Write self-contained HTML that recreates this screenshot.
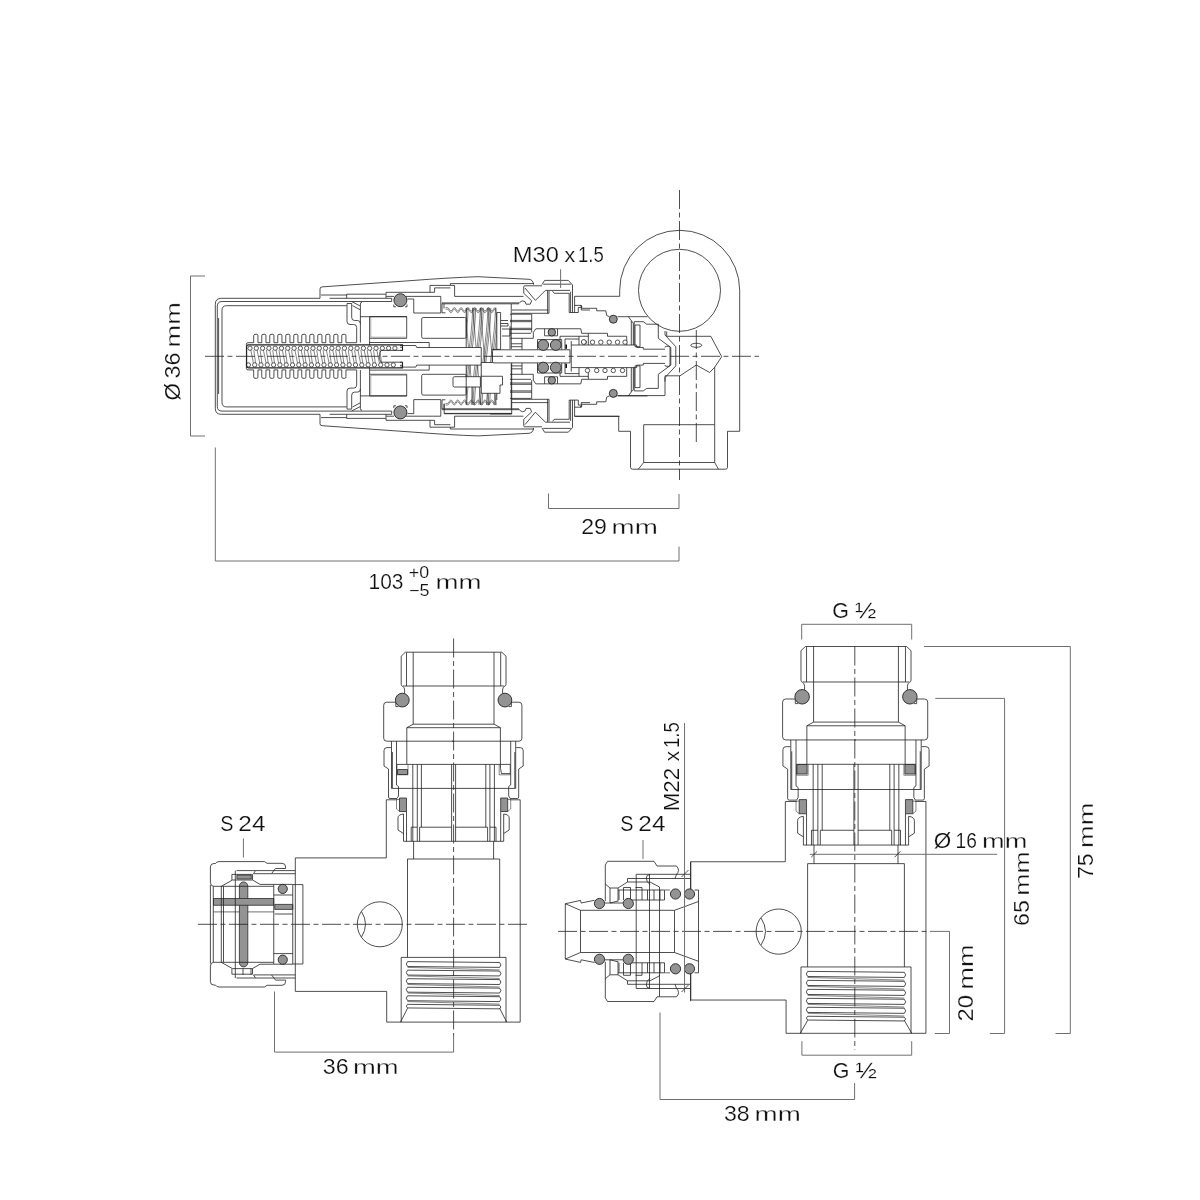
<!DOCTYPE html>
<html lang="en">
<head>
<meta charset="utf-8">
<title>Thermostatic valve – dimensions</title>
<style>
html,body{margin:0;padding:0;background:#fff;}
body{width:1200px;height:1200px;overflow:hidden;}
svg{display:block;position:absolute;left:0;top:0;}
.l{fill:none;stroke:#222;stroke-width:0.8;stroke-linejoin:round;stroke-linecap:butt;}
.w{fill:#fff;stroke:#222;stroke-width:0.8;stroke-linejoin:round;}
.t{fill:none;stroke:#222;stroke-width:0.55;}
.d{fill:none;stroke:#707070;stroke-width:1;}
.c{fill:none;stroke:#222;stroke-width:0.8;stroke-dasharray:19 3.5 5 3.5;}
.o{fill:#939393;stroke:#222;stroke-width:0.9;}
.sc{fill:#fff;stroke:#222;stroke-width:0.75;}
.t2{fill:none;stroke:#777;stroke-width:0.6;}
.b{fill:none;stroke:#222;stroke-width:1.15;}
.k{fill:#111;stroke:none;}
.gs{fill:#939393;stroke:#2a2a2a;stroke-width:0.8;}
#right path,#right circle{vector-effect:non-scaling-stroke;}
.d2{fill:none;stroke:#999;stroke-width:1.4;}
#text{opacity:0.999;}
text{font-family:"Liberation Sans",sans-serif;fill:#111;stroke:#fff;stroke-linejoin:round;}
</style>
</head>
<body>
<svg width="1200" height="1200" viewBox="0 0 1200 1200">
<g id="top">
<clipPath id="cs"><rect x="466.2" y="307.6" width="30.600000000000023" height="97.39999999999998"/></clipPath>
<g clip-path="url(#cs)"><path class="t" d="M465.10,307.60 C464.60,337.60 457.60,370.00 456.10,405.00M466.60,307.60 C466.10,337.60 459.10,370.00 457.60,405.00M468.10,307.60 C467.60,337.60 460.60,370.00 459.10,405.00M472.70,307.60 C472.20,337.60 465.20,370.00 463.70,405.00M474.20,307.60 C473.70,337.60 466.70,370.00 465.20,405.00M475.70,307.60 C475.20,337.60 468.20,370.00 466.70,405.00M480.30,307.60 C479.80,337.60 472.80,370.00 471.30,405.00M481.80,307.60 C481.30,337.60 474.30,370.00 472.80,405.00M483.30,307.60 C482.80,337.60 475.80,370.00 474.30,405.00M487.90,307.60 C487.40,337.60 480.40,370.00 478.90,405.00M489.40,307.60 C488.90,337.60 481.90,370.00 480.40,405.00M490.90,307.60 C490.40,337.60 483.40,370.00 481.90,405.00M495.50,307.60 C495.00,337.60 488.00,370.00 486.50,405.00M497.00,307.60 C496.50,337.60 489.50,370.00 488.00,405.00M498.50,307.60 C498.00,337.60 491.00,370.00 489.50,405.00M503.10,307.60 C502.60,337.60 495.60,370.00 494.10,405.00M504.60,307.60 C504.10,337.60 497.10,370.00 495.60,405.00M506.10,307.60 C505.60,337.60 498.60,370.00 497.10,405.00M510.70,307.60 C510.20,337.60 503.20,370.00 501.70,405.00M512.20,307.60 C511.70,337.60 504.70,370.00 503.20,405.00M513.70,307.60 C513.20,337.60 506.20,370.00 504.70,405.00M465.20,307.60 C467.20,332.60 471.20,380.00 473.20,405.00M472.80,307.60 C474.80,332.60 478.80,380.00 480.80,405.00M480.40,307.60 C482.40,332.60 486.40,380.00 488.40,405.00M488.00,307.60 C490.00,332.60 494.00,380.00 496.00,405.00M495.60,307.60 C497.60,332.60 501.60,380.00 503.60,405.00"/></g>
<path class="l" d="M466.2 308V405M496.8 312.5V400"/>
<path class="l" d="M218.6 318V394"/>
<circle class="sc" cx="250" cy="348.2" r="2.15"/>
<circle class="sc" cx="248.4" cy="364.9" r="2.15"/>
<circle class="sc" cx="256.3" cy="348.2" r="2.15"/>
<circle class="sc" cx="254.7" cy="364.9" r="2.15"/>
<circle class="sc" cx="262.6" cy="348.2" r="2.15"/>
<circle class="sc" cx="261" cy="364.9" r="2.15"/>
<circle class="sc" cx="268.9" cy="348.2" r="2.15"/>
<circle class="sc" cx="267.3" cy="364.9" r="2.15"/>
<circle class="sc" cx="275.2" cy="348.2" r="2.15"/>
<circle class="sc" cx="273.6" cy="364.9" r="2.15"/>
<circle class="sc" cx="281.5" cy="348.2" r="2.15"/>
<circle class="sc" cx="279.9" cy="364.9" r="2.15"/>
<circle class="sc" cx="287.8" cy="348.2" r="2.15"/>
<circle class="sc" cx="286.2" cy="364.9" r="2.15"/>
<circle class="sc" cx="294.1" cy="348.2" r="2.15"/>
<circle class="sc" cx="292.5" cy="364.9" r="2.15"/>
<circle class="sc" cx="300.4" cy="348.2" r="2.15"/>
<circle class="sc" cx="298.8" cy="364.9" r="2.15"/>
<circle class="sc" cx="306.7" cy="348.2" r="2.15"/>
<circle class="sc" cx="305.1" cy="364.9" r="2.15"/>
<circle class="sc" cx="313" cy="348.2" r="2.15"/>
<circle class="sc" cx="311.4" cy="364.9" r="2.15"/>
<circle class="sc" cx="319.3" cy="348.2" r="2.15"/>
<circle class="sc" cx="317.7" cy="364.9" r="2.15"/>
<circle class="sc" cx="325.6" cy="348.2" r="2.15"/>
<circle class="sc" cx="324" cy="364.9" r="2.15"/>
<circle class="sc" cx="331.9" cy="348.2" r="2.15"/>
<circle class="sc" cx="330.3" cy="364.9" r="2.15"/>
<circle class="sc" cx="338.2" cy="348.2" r="2.15"/>
<circle class="sc" cx="336.6" cy="364.9" r="2.15"/>
<circle class="sc" cx="344.5" cy="348.2" r="2.15"/>
<circle class="sc" cx="342.9" cy="364.9" r="2.15"/>
<circle class="sc" cx="350.8" cy="348.2" r="2.15"/>
<circle class="sc" cx="349.2" cy="364.9" r="2.15"/>
<circle class="sc" cx="357.1" cy="348.2" r="2.15"/>
<circle class="sc" cx="355.5" cy="364.9" r="2.15"/>
<circle class="sc" cx="363.4" cy="348.2" r="2.15"/>
<circle class="sc" cx="361.8" cy="364.9" r="2.15"/>
<circle class="sc" cx="369.7" cy="348.2" r="2.15"/>
<circle class="sc" cx="368.1" cy="364.9" r="2.15"/>
<circle class="sc" cx="376" cy="348.2" r="2.15"/>
<circle class="sc" cx="374.4" cy="364.9" r="2.15"/>
<circle class="sc" cx="382.3" cy="348.2" r="2.15"/>
<circle class="sc" cx="380.7" cy="364.9" r="2.15"/>
<circle class="sc" cx="388.6" cy="348.2" r="2.15"/>
<circle class="sc" cx="387" cy="364.9" r="2.15"/>
<circle class="sc" cx="394.9" cy="348.2" r="2.15"/>
<circle class="sc" cx="393.3" cy="364.9" r="2.15"/>
<path class="t" d="M250.8 350L253.4 363M253.8 350L255.6 363M257.1 350L259.7 363M260.1 350L261.9 363M263.4 350L266 363M266.4 350L268.2 363M269.7 350L272.3 363M272.7 350L274.5 363M276 350L278.6 363M279 350L280.8 363M282.3 350L284.9 363M285.3 350L287.1 363M288.6 350L291.2 363M291.6 350L293.4 363M294.9 350L297.5 363M297.9 350L299.7 363M301.2 350L303.8 363M304.2 350L306 363M307.5 350L310.1 363M310.5 350L312.3 363M313.8 350L316.4 363M316.8 350L318.6 363M320.1 350L322.7 363M323.1 350L324.9 363M326.4 350L329 363M329.4 350L331.2 363M332.7 350L335.3 363M335.7 350L337.5 363M339 350L341.6 363M342 350L343.8 363M345.3 350L347.9 363M348.3 350L350.1 363M351.6 350L354.2 363M354.6 350L356.4 363M357.9 350L360.5 363M360.9 350L362.7 363M364.2 350L366.8 363M367.2 350L369 363M370.5 350L373.1 363M373.5 350L375.3 363M376.8 350L379.4 363M379.8 350L381.6 363"/>
<rect x="416.7" y="347.5" width="64.5" height="17.6" fill="#fff"/>
<path class="l" d="M416.7 347.5H481.25V365.1H416.7"/>
<rect x="481.25" y="362.5" width="30.4" height="30.8" fill="#fff"/>
<path class="l" d="M481.25 393.3V362.5H511.7V414H490M481.25 393.3H500V385H502.5V376.25H481.25"/>
<path class="l" d="M444.2 403.5V413.75H511.7M444.2 413.4H511.7"/>
<path class="w" d="M454.5 376.7H480.4V387H454.5Q453 387 453 385.5V378.2Q453 376.7 454.5 376.7Z"/>
<path class="l" d="M496.8 312.5H500.6V349.5M500.8 320.5H508M500.8 323.5H508V326H500.8M502 329H510V336H502M510 326V349"/>
<path class="w" d="M494 349.8H570V362.9H494Q492.5 362.9 492.5 361.4V351.3Q492.5 349.8 494 349.8Z"/>
<path class="l" d="M491.7 349.4H500.6"/>
<path class="l" d="M619.7 296.3V290.3A60 60 0 0 1 739.7 290.3V431.3H727.5V467.2Q727.5 469.2 725.5 469.2H632.5Q630.5 469.2 630.5 467.2V431.3H618.7V416.3"/>
<path class="l" d="M574.6 416.3H618.7"/>
<circle class="l" cx="679.5" cy="290.3" r="41"/>
<path class="l" d="M666.7 336.3H710.8L721.7 356.7L714.7 367.2L709.7 372.5L696.3 365L680 375.8H665V395.4M666.7 336.3V331.5"/>
<ellipse class="l" cx="696.3" cy="345.3" rx="5.5" ry="2"/>
<path class="l" d="M714.7 367.2V424.7M643.7 424.7H714.7V462.5H643.7ZM643.7 462.5L638.3 469.2M714.7 462.5L718.5 469.2"/>
<path class="l" d="M617.5 395.6H665"/>
<path class="l" d="M320 298.3H221.3Q215.3 298.3 215.3 304.3V356.3"/>
<path class="l" d="M320 414.3H221.3Q215.3 414.3 215.3 408.3V356.3"/>
<path class="l" d="M391.7 301.5H222Q217.3 301.5 217.3 306.2V356.3"/>
<path class="l" d="M391.7 411.1H222Q217.3 411.1 217.3 406.4V356.3"/>
<path class="l" d="M346.7 305.7H226.5Q222 305.7 222 310.2V356.3"/>
<path class="l" d="M346.7 406.9H226.5Q222 406.9 222 402.4V356.3"/>
<path class="l" d="M329.6 298.3H391.7V301.5"/>
<path class="l" d="M329.6 414.3H391.7V411.1"/>
<path class="l" d="M321 295H346.7M346.7 298.3V294.2H385.8"/>
<path class="l" d="M321 417.6H346.7M346.7 414.3V418.4H385.8"/>
<path class="l" d="M320 298.3V289Q320 287 322 286.9L410 280.7Q450 277.6 478 276.7L529 279.3Q533 279.6 533.6 284.6"/>
<path class="l" d="M320 414.3V423.6Q320 425.6 322 425.7L410 431.9Q450 435 478 435.9L529 433.3Q533 433 533.6 428"/>
<path class="l" d="M347 303.5V321.5Q347 324.5 350 324.5H353.7Q356.7 324.5 356.7 327.5V342.6"/>
<path class="l" d="M347 409.1V391.1Q347 388.1 350 388.1H353.7Q356.7 388.1 356.7 385.1V370"/>
<path class="l" d="M347 303.5H351.7V317.5Q351.7 320.5 354.7 320.5H357.4Q360.4 320.5 360.4 323.5"/>
<path class="l" d="M347 409.1H351.7V395.1Q351.7 392.1 354.7 392.1H357.4Q360.4 392.1 360.4 389.1"/>
<path class="l" d="M351.7 301.6L360.2 306M352.5 305.6L360.2 309.8"/>
<path class="l" d="M351.7 411L360.2 406.6M352.5 407L360.2 402.8"/>
<path class="l" d="M360.4 342.6V304Q360.4 302.3 362 302.3M360.4 316.7H407"/>
<path class="l" d="M360.4 370V408.6Q360.4 410.3 362 410.3M360.4 395.9H407"/>
<path class="l" d="M369.6 316.7H406.7V338.3H369.6ZM369.6 338.3V345M369.6 342.5H429.2V347.5"/>
<path class="l" d="M369.6 395.9H406.7V374.3H369.6ZM369.6 374.3V367.6M369.6 370.1H429.2V365.1"/>
<path class="t2" d="M370.8 317V337.2H406.7"/>
<path class="t2" d="M370.8 395.6V375.4H406.7"/>
<path class="l" d="M386 298.3V292.3H430M386.2 296.4H394"/>
<path class="l" d="M386 414.3V420.3H430M386.2 416.2H394"/>
<path class="l" d="M393.8 304.5V306.8H396M405 306.8H407V304.5"/>
<path class="l" d="M393.8 408.1V405.8H396M405 405.8H407V408.1"/>
<path class="l" d="M430 292.3V285.4H450.4V283.6H534"/>
<path class="l" d="M430 420.3V427.2H450.4V429H534"/>
<path class="l" d="M430 292.3H434.6V287.9H450.4M450.4 285.4H454.6V296.4H523.5"/>
<path class="l" d="M430 420.3H434.6V424.7H450.4M450.4 427.2H454.6V416.2H523.5"/>
<path class="l" d="M406 296.4H440.8V313H413.75V299H407.5"/>
<path class="l" d="M406 416.2H440.8V399.6H413.75V413.6H407.5"/>
<path class="l" d="M442 302.9H519M442 303.8H519M442 303.3V312.8H445.5M444 304V308.5"/>
<path class="l" d="M442 409.7H519M442 408.8H519M442 409.3V399.8H445.5M444 408.6V404.1"/>
<path class="t" d="M445.5 307.6L447.5 307.6Q448.4 307.6 449.2 309.3Q450 311 450.9 311Q451.8 311 452.6 309.3Q453.4 307.6 454.3 307.6Q455.2 307.6 456 309.3Q456.8 311 457.7 311Q458.6 311 459.4 309.3Q460.2 307.6 461.1 307.6Q462 307.6 462.8 309.3Q463.6 311 464.5 311Q465.4 311 466.2 309.3Q467 307.6 467.9 307.6Q468.8 307.6 469.6 309.3Q470.4 311 471.3 311Q472.2 311 473 309.3Q473.8 307.6 474.7 307.6Q475.6 307.6 476.4 309.3Q477.2 311 478.1 311Q479 311 479.8 309.3Q480.6 307.6 481.5 307.6Q482.4 307.6 483.2 309.3Q484 311 484.9 311Q485.8 311 486.6 309.3Q487.4 307.6 488.3 307.6Q489.2 307.6 490 309.3Q490.8 311 491.7 311Q492.6 311 493.4 309.3Q494.2 307.6 495.1 307.6"/>
<path class="t" d="M445.5 405L447.5 405Q448.4 405 449.2 403.3Q450 401.6 450.9 401.6Q451.8 401.6 452.6 403.3Q453.4 405 454.3 405Q455.2 405 456 403.3Q456.8 401.6 457.7 401.6Q458.6 401.6 459.4 403.3Q460.2 405 461.1 405Q462 405 462.8 403.3Q463.6 401.6 464.5 401.6Q465.4 401.6 466.2 403.3Q467 405 467.9 405Q468.8 405 469.6 403.3Q470.4 401.6 471.3 401.6Q472.2 401.6 473 403.3Q473.8 405 474.7 405Q475.6 405 476.4 403.3Q477.2 401.6 478.1 401.6Q479 401.6 479.8 403.3Q480.6 405 481.5 405Q482.4 405 483.2 403.3Q484 401.6 484.9 401.6Q485.8 401.6 486.6 403.3Q487.4 405 488.3 405Q489.2 405 490 403.3Q490.8 401.6 491.7 401.6Q492.6 401.6 493.4 403.3Q494.2 405 495.1 405"/>
<path class="t" d="M445.5 309.2L447.5 309.2Q448.4 309.2 449.2 310.9Q450 312.6 450.9 312.6Q451.8 312.6 452.6 310.9Q453.4 309.2 454.3 309.2Q455.2 309.2 456 310.9Q456.8 312.6 457.7 312.6Q458.6 312.6 459.4 310.9Q460.2 309.2 461.1 309.2Q462 309.2 462.8 310.9Q463.6 312.6 464.5 312.6Q465.4 312.6 466.2 310.9Q467 309.2 467.9 309.2Q468.8 309.2 469.6 310.9Q470.4 312.6 471.3 312.6Q472.2 312.6 473 310.9Q473.8 309.2 474.7 309.2Q475.6 309.2 476.4 310.9Q477.2 312.6 478.1 312.6Q479 312.6 479.8 310.9Q480.6 309.2 481.5 309.2Q482.4 309.2 483.2 310.9Q484 312.6 484.9 312.6Q485.8 312.6 486.6 310.9Q487.4 309.2 488.3 309.2Q489.2 309.2 490 310.9Q490.8 312.6 491.7 312.6Q492.6 312.6 493.4 310.9Q494.2 309.2 495.1 309.2"/>
<path class="t" d="M445.5 403.4L447.5 403.4Q448.4 403.4 449.2 401.7Q450 400 450.9 400Q451.8 400 452.6 401.7Q453.4 403.4 454.3 403.4Q455.2 403.4 456 401.7Q456.8 400 457.7 400Q458.6 400 459.4 401.7Q460.2 403.4 461.1 403.4Q462 403.4 462.8 401.7Q463.6 400 464.5 400Q465.4 400 466.2 401.7Q467 403.4 467.9 403.4Q468.8 403.4 469.6 401.7Q470.4 400 471.3 400Q472.2 400 473 401.7Q473.8 403.4 474.7 403.4Q475.6 403.4 476.4 401.7Q477.2 400 478.1 400Q479 400 479.8 401.7Q480.6 403.4 481.5 403.4Q482.4 403.4 483.2 401.7Q484 400 484.9 400Q485.8 400 486.6 401.7Q487.4 403.4 488.3 403.4Q489.2 403.4 490 401.7Q490.8 400 491.7 400Q492.6 400 493.4 401.7Q494.2 403.4 495.1 403.4"/>
<path class="l" d="M421.7 319Q421.7 317.5 423.2 317.5H464.7Q466.2 317.5 466.2 319V336.8Q466.2 338.3 464.7 338.3H423.2Q421.7 338.3 421.7 336.8Z"/>
<path class="l" d="M421.7 393.6Q421.7 395.1 423.2 395.1H464.7Q466.2 395.1 466.2 393.6V375.8Q466.2 374.3 464.7 374.3H423.2Q421.7 374.3 421.7 375.8Z"/>
<path class="l" d="M246.4 356.3V344.2Q246.4 342.7 248 342.7H253.7V335.8Q253.75 334.3 254.95 334.3H256.75Q257.95 334.3 257.95 335.8V342.7H261.75V335.8Q261.75 334.3 262.95 334.3H264.75Q265.95 334.3 265.95 335.8V342.7H269.75V335.8Q269.75 334.3 270.95 334.3H272.75Q273.95 334.3 273.95 335.8V342.7H277.75V335.8Q277.75 334.3 278.95 334.3H280.75Q281.95 334.3 281.95 335.8V342.7H285.75V335.8Q285.75 334.3 286.95 334.3H288.75Q289.95 334.3 289.95 335.8V342.7H293.75V335.8Q293.75 334.3 294.95 334.3H296.75Q297.95 334.3 297.95 335.8V342.7H301.75V335.8Q301.75 334.3 302.95 334.3H304.75Q305.95 334.3 305.95 335.8V342.7H309.75V335.8Q309.75 334.3 310.95 334.3H312.75Q313.95 334.3 313.95 335.8V342.7H317.75V335.8Q317.75 334.3 318.95 334.3H320.75Q321.95 334.3 321.95 335.8V342.7H325.75V335.8Q325.75 334.3 326.95 334.3H328.75Q329.95 334.3 329.95 335.8V342.7H333.75V335.8Q333.75 334.3 334.95 334.3H336.75Q337.95 334.3 337.95 335.8V342.7H341.75V335.8Q341.75 334.3 342.95 334.3H344.75Q345.95 334.3 345.95 335.8V342.7H356.7"/>
<path class="l" d="M246.4 356.3V368.4Q246.4 369.9 248 369.9H253.7V376.8Q253.75 378.3 254.95 378.3H256.75Q257.95 378.3 257.95 376.8V369.9H261.75V376.8Q261.75 378.3 262.95 378.3H264.75Q265.95 378.3 265.95 376.8V369.9H269.75V376.8Q269.75 378.3 270.95 378.3H272.75Q273.95 378.3 273.95 376.8V369.9H277.75V376.8Q277.75 378.3 278.95 378.3H280.75Q281.95 378.3 281.95 376.8V369.9H285.75V376.8Q285.75 378.3 286.95 378.3H288.75Q289.95 378.3 289.95 376.8V369.9H293.75V376.8Q293.75 378.3 294.95 378.3H296.75Q297.95 378.3 297.95 376.8V369.9H301.75V376.8Q301.75 378.3 302.95 378.3H304.75Q305.95 378.3 305.95 376.8V369.9H309.75V376.8Q309.75 378.3 310.95 378.3H312.75Q313.95 378.3 313.95 376.8V369.9H317.75V376.8Q317.75 378.3 318.95 378.3H320.75Q321.95 378.3 321.95 376.8V369.9H325.75V376.8Q325.75 378.3 326.95 378.3H328.75Q329.95 378.3 329.95 376.8V369.9H333.75V376.8Q333.75 378.3 334.95 378.3H336.75Q337.95 378.3 337.95 376.8V369.9H341.75V376.8Q341.75 378.3 342.95 378.3H344.75Q345.95 378.3 345.95 376.8V369.9H356.7"/>
<path class="b" d="M402.5 350.4V344.8H248.4Q246.6 344.8 246.6 346.6V356.3"/>
<path class="b" d="M402.5 362.2V367.8H248.4Q246.6 367.8 246.6 366V356.3"/>
<path class="l" d="M381 350.4H402.5M381 350.4Q379.5 352 379.5 356.3"/>
<path class="l" d="M381 362.2H402.5M381 362.2Q379.5 360.6 379.5 356.3"/>
<path class="l" d="M400 345.5H415.8L416.7 347.5M400 347.2H402.5V350.4H400"/>
<path class="l" d="M400 367.1H415.8L416.7 365.1M400 365.4H402.5V362.2H400"/>
<path class="l" d="M523.75 293.3V286.8Q523.75 285.8 524.7 285.8H542"/>
<path class="l" d="M523.75 419.3V425.8Q523.75 426.8 524.7 426.8H542"/>
<path class="l" d="M523.75 293.3L531.7 300.8L530.2 304.2H526L525.2 301.8Q522.5 300 520.6 301.6L519.2 303.4"/>
<path class="l" d="M523.75 419.3L531.7 411.8L530.2 408.4H526L525.2 410.8Q522.5 412.6 520.6 411L519.2 409.2"/>
<path class="l" d="M525 288L535.4 300.4L545.4 290.4H547.5"/>
<path class="l" d="M525 424.6L535.4 412.2L545.4 422.2H547.5"/>
<path class="l" d="M542 284.6L544.6 280.4H568.3L572.5 285V312.5M543.3 284.2H570.8"/>
<path class="l" d="M542 428L544.6 432.2H568.3L572.5 427.6V400.1M543.3 428.4H570.8"/>
<path class="l" d="M547.5 290.4H570M552.5 291.2L554.2 293.3H569.2V312.5M570.6 291.7V312.5M569.2 312.5H578.3V307.5H580.8"/>
<path class="l" d="M547.5 422.2H570M552.5 421.4L554.2 419.3H569.2V400.1M570.6 420.9V400.1M569.2 400.1H578.3V405.1H580.8"/>
<path class="l" d="M547.6 290.4V313.3M549 291V313.3M512 310H548.3M512 313.3H549"/>
<path class="l" d="M547.6 422.2V399.3M549 421.6V399.3M512 402.6H548.3M512 399.3H549"/>
<path class="l" d="M511.25 304V349"/>
<path class="l" d="M511.25 408.6V363.6"/>
<path class="l" d="M510 314.2H531.7V332.5M510 320.4H531.7M510 321.7H531.7M510 328.3H531.7M510 329.6H531.7M510 333.3H531M510 338.3H533.3V332.5M511.25 343.75H522M511.25 346.7H522M522 338.3V349.6"/>
<path class="l" d="M510 398.4H531.7V380.1M510 392.2H531.7M510 390.9H531.7M510 384.3H531.7M510 383H531.7M510 379.3H531M510 374.3H533.3V380.1M511.25 368.85H522M511.25 365.9H522M522 374.3V363"/>
<path class="l" d="M533.3 332.5L535.8 328.75H580.8L581.7 333.3H588.3"/>
<path class="l" d="M533.3 380.1L535.8 383.85H580.8L581.7 379.3H588.3"/>
<path class="l" d="M544.6 328.75V335.8H557.5V328.75"/>
<path class="l" d="M544.6 383.85V376.8H557.5V383.85"/>
<path class="l" d="M537.5 349.6V339.6H561.7V349.6"/>
<path class="l" d="M537.5 363V373H561.7V363"/>
<path class="l" d="M560 343.3V336.25H588.3M565 349.6V339H579M579 336.25V345"/>
<path class="l" d="M560 369.3V376.35H588.3M565 363V373.6H579M579 376.35V367.6"/>
<path class="k" d="M565.4 344.6H567V348.75H565.4Z"/>
<path class="k" d="M565.4 368H567V363.85H565.4Z"/>
<path class="l" d="M574.6 312.5V296.3H619.7M574.6 305.4H581.25V310H590"/>
<path class="l" d="M574.6 400.1V416.3H619.7M574.6 407.2H581.25V402.6H590"/>
<path class="l" d="M580 305.8H581.7V308.3H596.7V310.8H605.8L606.7 315.5L609.5 316.7"/>
<path class="l" d="M580 406.8H581.7V404.3H596.7V401.8H605.8L606.7 397.1L609.5 395.9"/>
<path class="l" d="M617.5 316.7H647.5"/>
<path class="l" d="M617.5 395.9H647.5"/>
<path class="l" d="M628.3 316.7L633.3 323.3V345M631.3 321V345"/>
<path class="l" d="M628.3 395.9L633.3 389.3V367.6M631.3 391.6V367.6"/>
<path class="l" d="M634.2 345V321.7H643.3L646.7 324.2H658.3"/>
<path class="l" d="M634.2 367.6V390.9H643.3L646.7 388.4H658.3"/>
<path class="l" d="M635 325H640V346.7H635Z"/>
<path class="l" d="M635 387.6H640V365.9H635Z"/>
<path class="l" d="M658.3 324.2V338.3L670.8 347.5V356.3M665 331V335L675.8 346.7V356.3"/>
<path class="l" d="M658.3 388.4V374.3L670.8 365.1V356.3M665 381.6V377.6L675.8 365.9V356.3"/>
<path class="l" d="M571.25 345H636.7V347.5H643.3V349.2H665"/>
<path class="l" d="M571.25 367.6H636.7V365.1H643.3V363.4H665"/>
<path class="l" d="M665 347.5Q665 346.3 666.2 346.3H668.8Q670 346.3 670 347.5V356.3"/>
<path class="l" d="M665 365.1Q665 366.3 666.2 366.3H668.8Q670 366.3 670 365.1V356.3"/>
<path class="l" d="M588.3 345V333.3H607.5V336.25H626.7V345"/>
<path class="l" d="M588.3 367.6V379.3H607.5V376.35H626.7V367.6"/>
<path class="l" d="M571.25 341V356.3"/>
<path class="l" d="M571.25 371.6V356.3"/>
<circle class="o" cx="400.4" cy="300.2" r="6.5"/>
<circle class="o" cx="400.4" cy="412.4" r="6.5"/>
<circle class="o" cx="543.2" cy="345" r="5.4"/>
<circle class="o" cx="543.2" cy="367.6" r="5.4"/>
<circle class="o" cx="555.8" cy="345" r="5.4"/>
<circle class="o" cx="555.8" cy="367.6" r="5.4"/>
<circle class="o" cx="551.8" cy="332.3" r="3.75"/>
<circle class="o" cx="551.8" cy="380.3" r="3.75"/>
<circle class="o" cx="613.3" cy="319.2" r="4"/>
<circle class="o" cx="613.3" cy="393.4" r="4"/>
<circle class="sc" cx="584.2" cy="342.2" r="2.2"/>
<circle class="sc" cx="592.5" cy="342.2" r="2.2"/>
<circle class="sc" cx="600.8" cy="342.2" r="2.2"/>
<circle class="sc" cx="609.2" cy="342.2" r="2.2"/>
<circle class="sc" cx="617.5" cy="342.2" r="2.2"/>
<circle class="sc" cx="625" cy="342.2" r="2.2"/>
<circle class="sc" cx="587.5" cy="370.5" r="2.2"/>
<circle class="sc" cx="596.7" cy="370.5" r="2.2"/>
<circle class="sc" cx="605" cy="370.5" r="2.2"/>
<circle class="sc" cx="613.3" cy="370.5" r="2.2"/>
<circle class="sc" cx="622.5" cy="370.5" r="2.2"/>
<circle class="sc" cx="583.75" cy="342" r="2.4"/>
<path class="c" d="M205 356.3H759"/>
<path class="c" d="M679.5 190V480"/>
<path class="c" d="M696.3 330V443.5"/>
<path class="d" d="M205 276H190.5V436H205"/>
<path class="d" d="M215.3 447.5V561H679V546.6"/>
<path class="d" d="M548.5 493.5V508.5H679V494"/>
<path class="d" d="M560.6 269.25V288"/>
</g>
<g id="left">
<path class="l" d="M397 799.8H386.3V857.9H295.3V991.4H386.7V1022.1H520.2V799.8H510.2"/>
<path class="t" d="M407.6 967.4L499.6 969.9"/>
<path class="t" d="M407.6 975.95L499.6 978.45"/>
<path class="t" d="M407.6 984.5L499.6 987"/>
<path class="t" d="M407.6 993.05L499.6 995.55"/>
<path class="t" d="M407.6 1001.6L499.6 1004.1"/>
<path class="l" d="M407.6 961.6Q405 964.05 407.6 966.5L499.6 967.4Q502.2 964.95 499.6 962.5ZM407.6 970.15Q405 972.6 407.6 975.05L499.6 975.95Q502.2 973.5 499.6 971.05ZM407.6 978.7Q405 981.15 407.6 983.6L499.6 984.5Q502.2 982.05 499.6 979.6ZM407.6 987.25Q405 989.7 407.6 992.15L499.6 993.05Q502.2 990.6 499.6 988.15ZM407.6 995.8Q405 998.25 407.6 1000.7L499.6 1001.6Q502.2 999.15 499.6 996.7ZM407.6 1004.35Q405 1006.15 407.6 1007.95L499.6 1008.85Q502.2 1007.05 499.6 1005.25Z"/>
<path class="l" d="M453.6 652.2H405.4L401.2 656.2V684.3Q401.2 686 402.8 686.4Q404.6 687.5 404.6 690V693.5"/>
<path class="l" d="M453.6 652.2H501.8L506 656.2V684.3Q506 686 504.4 686.4Q502.6 687.5 502.6 690V693.5"/>
<path class="l" d="M406.5 652.5V686M413.2 652.2V724.2"/>
<path class="l" d="M500.7 652.5V686M494 652.2V724.2"/>
<path class="l" d="M403 686H453.6"/>
<path class="l" d="M504.2 686H453.6"/>
<path class="l" d="M395.5 702.2H386.7Q383.7 702.2 383.7 705.2V738.2Q383.7 741.2 386.7 741.2H453.6"/>
<path class="l" d="M510.1 702.2H518.9Q521.9 702.2 521.9 705.2V738.2Q521.9 741.2 518.9 741.2H452"/>
<path class="l" d="M395.8 702.2V706.6H398.5"/>
<path class="l" d="M511.4 702.2V706.6H508.7"/>
<path class="l" d="M413.2 724.2H453.6M413.2 724.2L406.8 727.7H453.6M406.8 727.7V764.4"/>
<path class="l" d="M494 724.2H453.6M494 724.2L500.4 727.7H453.6M500.4 727.7V764.4"/>
<path class="l" d="M396.5 741.2V785L398.5 786.5V796L397 798.5H390Q388.5 798.5 388.5 797V769L384 766V750.5Q384 747.6 387 747.6H391"/>
<path class="l" d="M510.7 741.2V785L508.7 786.5V796L510.2 798.5H517.2Q518.7 798.5 518.7 797V769L523.2 766V750.5Q523.2 747.6 520.2 747.6H516.2"/>
<path class="l" d="M391.5 741.2V788.4H453.6M392.4 752V788"/>
<path class="l" d="M515.7 741.2V788.4H453.6M514.8 752V788"/>
<path class="l" d="M397 764.4H453.6"/>
<path class="l" d="M510.2 764.4H453.6"/>
<path class="gs" d="M397.5 769.5H407.5V774.5H397.5Z"/>
<path class="l" d="M500.5 764.4V768.5L501.5 773.6H510"/>
<path class="t" d="M397 764.4V774.8H408V764.4"/>
<path class="t" d="M510.2 764.4V774.8H499.2V764.4"/>
<path class="gs" d="M399.5 798H406.5V811.5H399.5Z"/>
<path class="gs" d="M507.7 798H500.7V811.5H507.7Z"/>
<path class="t" d="M399.5 799.5H396.5V809L399.5 811.5"/>
<path class="t" d="M507.7 799.5H510.7V809L507.7 811.5"/>
<path class="l" d="M403.5 814Q398 814.5 398 818V830L403.5 833.5"/>
<path class="l" d="M503.7 814Q509.2 814.5 509.2 818V830L503.7 833.5"/>
<path class="l" d="M403.5 814V841.3M406.5 811.5V841.3"/>
<path class="l" d="M503.7 814V841.3M500.7 811.5V841.3"/>
<path class="l" d="M403.5 841.3H453.6"/>
<path class="l" d="M503.7 841.3H453.6"/>
<path class="l" d="M412.8 764.4V841.3M417.3 764.4V841.3M421.4 764.4V827.2"/>
<path class="l" d="M494.4 764.4V841.3M489.9 764.4V841.3M485.8 764.4V827.2"/>
<path class="l" d="M451.6 764.4V841.3"/>
<path class="l" d="M455.6 764.4V841.3"/>
<path class="l" d="M411.2 841.3V827.2H417.3M419.6 841.3V827.2H451.6"/>
<path class="l" d="M496 841.3V827.2H489.9M487.6 841.3V827.2H455.6"/>
<path class="l" d="M413.6 841.3V859M407.5 957.4V859H453.6"/>
<path class="l" d="M493.6 841.3V859M499.7 957.4V859H453.6"/>
<path class="l" d="M401.2 1022.1V957.4H453.6M407.6 1008.2L400.5 1022.1"/>
<path class="l" d="M506 1022.1V957.4H453.6M499.6 1008.2L506.7 1022.1"/>
<circle class="o" cx="402.3" cy="700.1" r="6.9"/>
<circle class="o" cx="504.9" cy="700.1" r="6.9"/>
<circle class="l" cx="379.8" cy="924.3" r="22.5"/>
<path class="l" d="M361.5 911.5Q369.5 924.3 361.5 937"/>
<path class="d" d="M213.5 911.9H273.75"/>
<rect class="gs" x="239.4" y="881.9" width="8.4" height="85" rx="4.2"/>
<path class="gs" d="M213.5 898.5H273.75V905.25H213.5Z"/>
<path class="gs" d="M274.75 904.4H292.75V909.4H274.75Z"/>
<path class="l" d="M274.75 914H292.75"/>
<path class="gs" d="M236.9 875.2H251.3V879H236.9Z"/>
<path class="l" d="M243 975V968.5M251 975V968.5"/>
<path class="l" d="M285.6 867Q285.6 863.3 282 863.3H267L264.5 861.6H219Q216.5 861.6 215.5 863.5H214Q210.4 863.5 210.4 867V882.5Q210.4 885.8 213.5 886.3"/>
<path class="l" d="M285.6 981.6Q285.6 985.3 282 985.3H267L264.5 987H219Q216.5 987 215.5 985.1H214Q210.4 985.1 210.4 981.6V966.1Q210.4 962.8 213.5 962.3"/>
<path class="l" d="M285.6 867V868.5H275.5L271.5 873.7H295.3M253.5 873.7H271.5M253.5 873.7L255.5 870.6H295.3"/>
<path class="l" d="M285.6 981.6V980.1H275.5L271.5 974.9H295.3M253.5 974.9H271.5M253.5 974.9L255.5 978H295.3"/>
<path class="l" d="M213.3 886.3H273.75V924.3"/>
<path class="l" d="M213.3 962.3H273.75V924.3"/>
<path class="l" d="M210.4 885V924.3M213.3 886.3V924.3M221.3 886.3V924.3M223.5 886.3V924.3"/>
<path class="l" d="M210.4 963.6V924.3M213.3 962.3V924.3M221.3 962.3V924.3M223.5 962.3V924.3"/>
<path class="l" d="M235.3 870.6V924.3M236.5 870.6H255.5"/>
<path class="l" d="M235.3 978V924.3M236.5 978H255.5"/>
<path class="l" d="M221.3 886.3L232.5 880H252.5L260 884.4H273.75"/>
<path class="l" d="M221.3 962.3L232.5 968.6H252.5L260 964.2H273.75"/>
<path class="l" d="M231.9 880V874.4H252.5V880"/>
<path class="l" d="M231.9 968.6V974.2H252.5V968.6"/>
<path class="l" d="M273.75 884.4H292.75V924.3M273.75 895H292.75M273.75 884.4V886.3"/>
<path class="l" d="M273.75 964.2H292.75V924.3M273.75 953.6H292.75M273.75 964.2V962.3"/>
<path class="l" d="M292.75 884.6H302.9V924.3"/>
<path class="l" d="M292.75 964H302.9V924.3"/>
<circle class="o" cx="282.75" cy="888.9" r="4.6"/>
<circle class="o" cx="282.75" cy="959.7" r="4.6"/>
<path class="c" d="M453.6 638.5V1036"/>
<path class="c" d="M198 924.3H528.7"/>
<path class="d" d="M243.4 838.5V857.5"/>
<path class="d" d="M274.5 991.5V1052.1H453.6V1036"/>
</g>
<g id="right">
<g transform="translate(856,646.5) scale(1.05) translate(-453.6,-652.2)">
<path class="l" d="M397 799.8H386.3V857.2H296.3V883.6M296.3 962.6V988.9H387V1020.6H520.2V799.8H510.2"/>
<path class="t" d="M407.6 967.4L499.6 969.9"/>
<path class="t" d="M407.6 975.95L499.6 978.45"/>
<path class="t" d="M407.6 984.5L499.6 987"/>
<path class="t" d="M407.6 993.05L499.6 995.55"/>
<path class="t" d="M407.6 1001.6L499.6 1004.1"/>
<path class="l" d="M407.6 961.6Q405 964.05 407.6 966.5L499.6 967.4Q502.2 964.95 499.6 962.5ZM407.6 970.15Q405 972.6 407.6 975.05L499.6 975.95Q502.2 973.5 499.6 971.05ZM407.6 978.7Q405 981.15 407.6 983.6L499.6 984.5Q502.2 982.05 499.6 979.6ZM407.6 987.25Q405 989.7 407.6 992.15L499.6 993.05Q502.2 990.6 499.6 988.15ZM407.6 995.8Q405 998.25 407.6 1000.7L499.6 1001.6Q502.2 999.15 499.6 996.7ZM407.6 1004.35Q405 1006.15 407.6 1007.95L499.6 1008.85Q502.2 1007.05 499.6 1005.25Z"/>
<path class="l" d="M453.6 652.2H405.4L401.2 656.2V684.3Q401.2 686 402.8 686.4Q404.6 687.5 404.6 690V693.5"/>
<path class="l" d="M453.6 652.2H501.8L506 656.2V684.3Q506 686 504.4 686.4Q502.6 687.5 502.6 690V693.5"/>
<path class="l" d="M406.5 652.5V686M413.2 652.2V724.2"/>
<path class="l" d="M500.7 652.5V686M494 652.2V724.2"/>
<path class="l" d="M403 686H453.6"/>
<path class="l" d="M504.2 686H453.6"/>
<path class="l" d="M395.5 702.2H386.7Q383.7 702.2 383.7 705.2V738.2Q383.7 741.2 386.7 741.2H453.6"/>
<path class="l" d="M510.1 702.2H518.9Q521.9 702.2 521.9 705.2V738.2Q521.9 741.2 518.9 741.2H452"/>
<path class="l" d="M395.8 702.2V706.6H398.5"/>
<path class="l" d="M511.4 702.2V706.6H508.7"/>
<path class="l" d="M413.2 724.2H453.6M413.2 724.2L406.8 727.7H453.6M406.8 727.7V764.4"/>
<path class="l" d="M494 724.2H453.6M494 724.2L500.4 727.7H453.6M500.4 727.7V764.4"/>
<path class="l" d="M396.5 741.2V785L398.5 786.5V796L397 798.5H390Q388.5 798.5 388.5 797V769L384 766V750.5Q384 747.6 387 747.6H391"/>
<path class="l" d="M510.7 741.2V785L508.7 786.5V796L510.2 798.5H517.2Q518.7 798.5 518.7 797V769L523.2 766V750.5Q523.2 747.6 520.2 747.6H516.2"/>
<path class="l" d="M391.5 741.2V788.4H453.6M392.4 752V788"/>
<path class="l" d="M515.7 741.2V788.4H453.6M514.8 752V788"/>
<path class="l" d="M397 764.4H453.6"/>
<path class="l" d="M510.2 764.4H453.6"/>
<path class="gs" d="M397.3 764.6H407V773.6H397.3Z"/>
<path class="gs" d="M509.9 764.6H500.2V773.6H509.9Z"/>
<path class="t" d="M397 764.4V774.8H408V764.4"/>
<path class="t" d="M510.2 764.4V774.8H499.2V764.4"/>
<path class="gs" d="M399.5 798H406.5V811.5H399.5Z"/>
<path class="gs" d="M507.7 798H500.7V811.5H507.7Z"/>
<path class="t" d="M399.5 799.5H396.5V809L399.5 811.5"/>
<path class="t" d="M507.7 799.5H510.7V809L507.7 811.5"/>
<path class="l" d="M403.5 814Q398 814.5 398 818V830L403.5 833.5"/>
<path class="l" d="M503.7 814Q509.2 814.5 509.2 818V830L503.7 833.5"/>
<path class="l" d="M403.5 814V841.3M406.5 811.5V841.3"/>
<path class="l" d="M503.7 814V841.3M500.7 811.5V841.3"/>
<path class="l" d="M403.5 841.3H453.6"/>
<path class="l" d="M503.7 841.3H453.6"/>
<path class="l" d="M412.8 764.4V841.3M417.3 764.4V841.3M421.4 764.4V827.2"/>
<path class="l" d="M494.4 764.4V841.3M489.9 764.4V841.3M485.8 764.4V827.2"/>
<path class="l" d="M451.6 764.4V841.3"/>
<path class="l" d="M455.6 764.4V841.3"/>
<path class="l" d="M411.2 841.3V827.2H417.3M419.6 841.3V827.2H451.6"/>
<path class="l" d="M496 841.3V827.2H489.9M487.6 841.3V827.2H455.6"/>
<path class="l" d="M413.6 841.3V859M407.5 957.4V859H453.6"/>
<path class="l" d="M493.6 841.3V859M499.7 957.4V859H453.6"/>
<path class="l" d="M401.2 1020.6V957.4H453.6M407.6 1008.2L400.5 1020.6"/>
<path class="l" d="M506 1020.6V957.4H453.6M499.6 1008.2L506.7 1020.6"/>
<circle class="o" cx="402.3" cy="700.1" r="6.9"/>
<circle class="o" cx="504.9" cy="700.1" r="6.9"/>
</g>
</g>
<g id="right2">
<path class="l" d="M605.3 901V865L607.5 861.3H654L657 866H676.5Q680.5 870.2 676.5 874.5L675 878.5"/>
<path class="l" d="M605.3 961.8V997.8L607.5 1001.5H654L657 996.8H676.5Q680.5 992.6 676.5 988.3L675 984.3"/>
<path class="l" d="M605.3 884L610 888H618M610 888V903L618 901"/>
<path class="l" d="M605.3 978.8L610 974.8H618M610 974.8V959.8L618 961.8"/>
<path class="l" d="M636.2 931.4V874.3H690.5M627.5 882V878.5H690.5M627.5 882H650M627.5 882L618 888"/>
<path class="l" d="M636.2 931.4V988.5H690.5M627.5 980.8V984.3H690.5M627.5 980.8H650M627.5 980.8L618 974.8"/>
<path class="l" d="M650 874.5Q646.3 874.5 646.3 878Q646.3 882 650 884.5M650 882L659.5 887V931.4M649.5 874.3V931.4"/>
<path class="l" d="M650 988.3Q646.3 988.3 646.3 984.8Q646.3 980.8 650 978.3M650 980.8L659.5 975.8V931.4M649.5 988.5V931.4"/>
<path class="l" d="M618 890H664.5V900H630.5M618 888V901.5M619 890V900M623.5 887.5H630.5V900M623.5 887.5V900M635.5 887.5H642V900M642 890M647.5 890V900M654 890V900M660 890V900"/>
<path class="l" d="M618 972.8H664.5V962.8H630.5M618 974.8V961.3M619 972.8V962.8M623.5 975.3H630.5V962.8M623.5 975.3V962.8M635.5 975.3H642V962.8M642 972.8M647.5 972.8V962.8M654 972.8V962.8M660 972.8V962.8"/>
<path class="d" d="M664.5 890H670"/>
<path class="d" d="M664.5 972.8H670"/>
<path class="l" d="M565.3 931.4V903.75L580.5 900.4L581.2 903L594.5 900.3M565.3 903.75L580.5 910.3H674.5L698.5 901.5"/>
<path class="l" d="M565.3 931.4V959.05L580.5 962.4L581.2 959.8L594.5 962.5M565.3 959.05L580.5 952.5H674.5L698.5 961.3"/>
<path class="l" d="M580.5 910.3V931.4M674.5 910.3V931.4M698.5 931.4V890H694.5"/>
<path class="l" d="M580.5 952.5V931.4M674.5 952.5V931.4M698.5 931.4V972.8H694.5"/>
<path class="l" d="M604.5 903H623"/>
<path class="l" d="M604.5 959.8H623"/>
<path class="l" d="M690.5 861.6V889.5"/>
<path class="l" d="M690.5 1001.2V973.3"/>
<circle class="o" cx="599.5" cy="903.5" r="5.1"/>
<circle class="o" cx="599.5" cy="959.3" r="5.1"/>
<circle class="o" cx="628.3" cy="903.5" r="5.1"/>
<circle class="o" cx="628.3" cy="959.3" r="5.1"/>
<circle class="o" cx="675.5" cy="894" r="5.1"/>
<circle class="o" cx="675.5" cy="968.8" r="5.1"/>
<circle class="o" cx="689.5" cy="894" r="5.1"/>
<circle class="o" cx="689.5" cy="968.8" r="5.1"/>
<path class="l" d="M659.5 975V996.7"/>
<circle class="l" cx="778.7" cy="931.6" r="22.6"/>
<path class="l" d="M761 918Q770 931.6 761 945"/>
<path class="c" d="M558 931.4H930"/>
<path class="c" d="M854.8 646.5V1050"/>
<path class="d" d="M643 840V858.9"/>
<path class="d" d="M684.55 723V992.5"/>
<path class="l" d="M681.5 877L688.5 870M681.5 992L688.5 985"/>
<path class="d" d="M801.7 639.5V624.3H911.7V639.5"/>
<path class="d" d="M801.9 1041.2V1055.2H911.7V1041.2"/>
<path class="d" d="M660 1012.5V1099.5H854.6V1083"/>
<path class="d" d="M924 646.5H1070.3V1033.5H1055.5"/>
<path class="d" d="M935.3 698.4H1004.6V1033.5H989.8"/>
<path class="d" d="M930 931.4H949.5V1033.5H934.8"/>
<path class="d" d="M809.7 854.3H997.2"/>
<path class="l" d="M811.2 857.2L817 851.4M894.6 857.2L900.4 851.4"/>
</g>
<g id="text">
<text><tspan x="512.75" y="261.9" font-size="21.8" textLength="46.05" lengthAdjust="spacingAndGlyphs" stroke-width="0.2">M30</tspan> <tspan x="564.43" y="261.9" font-size="20.8" textLength="10.74" lengthAdjust="spacingAndGlyphs" stroke-width="0.2">x</tspan> <tspan x="578.01" y="261.9" font-size="21.8" textLength="25.84" lengthAdjust="spacingAndGlyphs" stroke-width="0.2">1.5</tspan></text>
<text><tspan x="581.15" y="533.5" font-size="21.8" textLength="25.64" lengthAdjust="spacingAndGlyphs" stroke-width="0.2">29</tspan> <tspan x="611.6" y="533.53" font-size="20.8" textLength="46.27" lengthAdjust="spacingAndGlyphs" stroke-width="0.26">mm</tspan></text>
<text><tspan x="368.53" y="588.8" font-size="21.8" textLength="34.88" lengthAdjust="spacingAndGlyphs" stroke-width="0.2">103</tspan> <tspan x="408.83" y="577.68" font-size="15.6" textLength="20.31" lengthAdjust="spacingAndGlyphs" stroke-width="0.15">+0</tspan> <tspan x="409.13" y="595.68" font-size="15.6" textLength="20.47" lengthAdjust="spacingAndGlyphs" stroke-width="0.15">−5</tspan> <tspan x="435.51" y="588.83" font-size="20.8" textLength="45.94" lengthAdjust="spacingAndGlyphs" stroke-width="0.26">mm</tspan></text>
<text transform="rotate(-90)"><tspan x="-400.54" y="179.9" font-size="21.2" textLength="17.43" lengthAdjust="spacingAndGlyphs" stroke-width="0.2">Ø</tspan> <tspan x="-378.58" y="179.9" font-size="21.8" textLength="25.97" lengthAdjust="spacingAndGlyphs" stroke-width="0.2">36</tspan> <tspan x="-347.46" y="179.93" font-size="20.8" textLength="45.29" lengthAdjust="spacingAndGlyphs" stroke-width="0.26">mm</tspan></text>
<text><tspan x="220.31" y="831.1" font-size="21.8" textLength="13.22" lengthAdjust="spacingAndGlyphs" stroke-width="0.2">S</tspan> <tspan x="238.38" y="831.1" font-size="21.8" textLength="27.15" lengthAdjust="spacingAndGlyphs" stroke-width="0.2">24</tspan></text>
<text><tspan x="322.78" y="1073.85" font-size="21.8" textLength="25.86" lengthAdjust="spacingAndGlyphs" stroke-width="0.2">36</tspan> <tspan x="353.02" y="1073.88" font-size="20.8" textLength="45.62" lengthAdjust="spacingAndGlyphs" stroke-width="0.26">mm</tspan></text>
<text><tspan x="620.31" y="831.4" font-size="21.8" textLength="13.22" lengthAdjust="spacingAndGlyphs" stroke-width="0.2">S</tspan> <tspan x="638.38" y="831.4" font-size="21.8" textLength="27.15" lengthAdjust="spacingAndGlyphs" stroke-width="0.2">24</tspan></text>
<text transform="rotate(-90)"><tspan x="-811.35" y="679.1" font-size="21.8" textLength="43.58" lengthAdjust="spacingAndGlyphs" stroke-width="0.2">M22</tspan> <tspan x="-761.16" y="679.1" font-size="20.8" textLength="10.32" lengthAdjust="spacingAndGlyphs" stroke-width="0.2">x</tspan> <tspan x="-748.1" y="679.1" font-size="21.8" textLength="25.95" lengthAdjust="spacingAndGlyphs" stroke-width="0.2">1.5</tspan></text>
<text><tspan x="832.33" y="618.15" font-size="21.8" textLength="16.69" lengthAdjust="spacingAndGlyphs" stroke-width="0.2">G</tspan> <tspan x="855.09" y="618.15" font-size="21.8" textLength="21.38" lengthAdjust="spacingAndGlyphs" stroke-width="0.2">½</tspan></text>
<text><tspan x="832.73" y="1078.4" font-size="21.8" textLength="16.69" lengthAdjust="spacingAndGlyphs" stroke-width="0.2">G</tspan> <tspan x="855.49" y="1078.4" font-size="21.8" textLength="21.38" lengthAdjust="spacingAndGlyphs" stroke-width="0.2">½</tspan></text>
<text><tspan x="724.03" y="1120.7" font-size="21.8" textLength="25.7" lengthAdjust="spacingAndGlyphs" stroke-width="0.2">38</tspan> <tspan x="754.6" y="1120.73" font-size="20.8" textLength="46.16" lengthAdjust="spacingAndGlyphs" stroke-width="0.26">mm</tspan></text>
<text><tspan x="933.66" y="847.6" font-size="21.2" textLength="17.43" lengthAdjust="spacingAndGlyphs" stroke-width="0.2">Ø</tspan> <tspan x="955.56" y="847.6" font-size="21.8" textLength="21.29" lengthAdjust="spacingAndGlyphs" stroke-width="0.2">16</tspan> <tspan x="982.14" y="847.63" font-size="20.8" textLength="45.18" lengthAdjust="spacingAndGlyphs" stroke-width="0.26">mm</tspan></text>
<text transform="rotate(-90)"><tspan x="-925.96" y="1028.5" font-size="21.8" textLength="25.79" lengthAdjust="spacingAndGlyphs" stroke-width="0.2">65</tspan> <tspan x="-895.67" y="1028.53" font-size="20.8" textLength="44.15" lengthAdjust="spacingAndGlyphs" stroke-width="0.26">mm</tspan></text>
<text transform="rotate(-90)"><tspan x="-879.12" y="1092.6" font-size="21.8" textLength="25.8" lengthAdjust="spacingAndGlyphs" stroke-width="0.2">75</tspan> <tspan x="-847.96" y="1092.63" font-size="20.8" textLength="45.18" lengthAdjust="spacingAndGlyphs" stroke-width="0.26">mm</tspan></text>
<text transform="rotate(-90)"><tspan x="-1021.6" y="972.6" font-size="21.8" textLength="26.65" lengthAdjust="spacingAndGlyphs" stroke-width="0.2">20</tspan> <tspan x="-989.46" y="972.63" font-size="20.8" textLength="45.13" lengthAdjust="spacingAndGlyphs" stroke-width="0.26">mm</tspan></text>
</g>
</svg>
</body>
</html>
